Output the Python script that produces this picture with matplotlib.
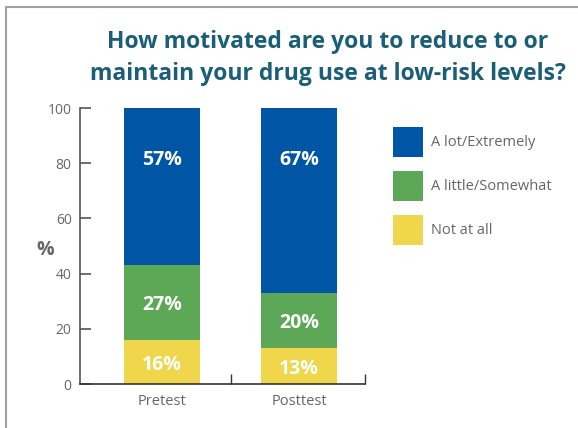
import matplotlib.pyplot as plt
from matplotlib.lines import Line2D

categories = ['Pretest', 'Posttest']
not_at_all = [16, 13]
a_little = [27, 20]
a_lot = [57, 67]
series_names = ['Not at all', 'A little/Somewhat', 'A lot/Extremely']
y_ticks = [0, 20, 40, 60, 80, 100]

colors = ['#F0D64A', '#5CA856', '#0055A5']
title_color = '#1B5E78'
gray = '#666666'

plt.rcParams['font.family'] = ['Open Sans', 'DejaVu Sans']

fig = plt.figure(figsize=(5.78, 4.28), dpi=100)
ax = fig.add_axes([80 / 578, 1 - 384 / 428, 285 / 578, 276 / 428])

x = list(range(len(categories)))
bottoms = [0] * len(categories)
handles = []
for i, vals in enumerate([not_at_all, a_little, a_lot]):
    bars = ax.bar(x, vals, bottom=bottoms, width=76 / 137, color=colors[i],
                  label=series_names[i], zorder=2)
    handles.append(bars)
    for j, v in enumerate(vals):
        if i == 2:
            ypos = bottoms[j] + v - 19
        else:
            ypos = bottoms[j] + v / 2 - 1
        ax.text(x[j], ypos, f'{v}%', ha='center', va='center', color='white',
                fontsize=14, fontweight='bold')
    bottoms = [b + v for b, v in zip(bottoms, vals)]

ax.set_xlim(-0.6, 1.48)
ax.set_ylim(0, 100)
ax.set_yticks(y_ticks)
ax.set_xticks([0.5, 1.48])
ax.set_xticklabels(['', ''])
for j, c in enumerate(categories):
    ax.text(x[j], -3.5, c, ha='center', va='top', color=gray, fontsize=10.5,
            transform=ax.transData)

ax.tick_params(axis='y', direction='in', length=8, width=1.2, color='#555555',
               labelcolor=gray, labelsize=10, pad=6)
ax.tick_params(axis='x', direction='in', length=7, width=1, color='#333333')
for s in ['top', 'right']:
    ax.spines[s].set_visible(False)
ax.spines['left'].set_color('#555555')
ax.spines['left'].set_linewidth(1.2)
ax.spines['bottom'].set_color('#333333')
ax.spines['bottom'].set_linewidth(1.2)

fig.text(45 / 578, 1 - 250 / 428, '%', ha='center', va='center', color=gray,
         fontsize=14, fontweight='bold')

fig.text(328 / 578, 1 - 58 / 428,
         'How motivated are you to reduce to or\nmaintain your drug use at low-risk levels?',
         ha='center', va='center', color=title_color, fontsize=16.5,
         fontweight='bold', linespacing=1.5)

leg = fig.legend(handles=handles[::-1], labels=series_names[::-1],
                 loc='upper left', bbox_to_anchor=(393 / 578, 1 - 127 / 428),
                 bbox_transform=fig.transFigure, frameon=False, borderpad=0,
                 borderaxespad=0, fontsize=10.5, handlelength=2.05,
                 handleheight=2.78, labelspacing=0.96, handletextpad=0.55)
for t in leg.get_texts():
    t.set_color(gray)

# frame lines around the panel
fig.add_artist(Line2D([6 / 578, 6 / 578], [0, 1 - 7 / 428], color='#A0A0A0', lw=1.5,
                      transform=fig.transFigure))
fig.add_artist(Line2D([6 / 578, 1], [1 - 7 / 428, 1 - 7 / 428], color='#A0A0A0', lw=1.5,
                      transform=fig.transFigure))

fig.savefig('out.png', dpi=100)
